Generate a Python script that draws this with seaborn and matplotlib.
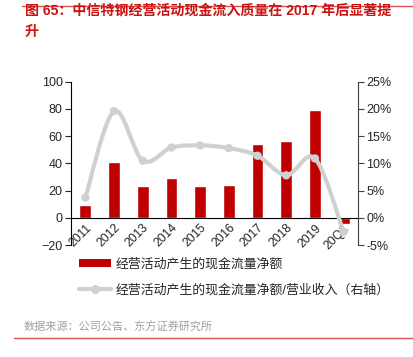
import matplotlib
matplotlib.use('Agg')
import matplotlib.pyplot as plt
import numpy as np
import pandas as pd
import seaborn as sns
from matplotlib.path import Path
from matplotlib.patches import PathPatch, Patch
from matplotlib.lines import Line2D

periods = ['2011', '2012', '2013', '2014', '2015', '2016', '2017', '2018', '2019', '20Q1']
net_cash = [9.5, 41, 23, 29.5, 23, 24, 54, 56.5, 79, -4.5]
cash_ratio = [3.7, 19.6, 10.5, 12.9, 13.3, 12.8, 11.4, 7.8, 10.9, -2.6]

bar_label = '经营活动产生的现金流量净额'
line_label = '经营活动产生的现金流量净额/营业收入（右轴）'
title = '图 65：中信特钢经营活动现金流入质量在 2017 年后显著提\n升'
source = '数据来源：公司公告、东方证券研究所'

RED = '#C00000'
GREY = '#D0D0D0'

sns.set_style('white')
plt.rcParams['font.family'] = ['Liberation Sans', 'Noto Sans CJK SC', 'DejaVu Sans']

df = pd.DataFrame({'period': periods, 'net_cash': net_cash, 'ratio': cash_ratio})
df['pos'] = np.arange(len(df))

fig = plt.figure(figsize=(4.14, 3.57), dpi=100)
ax = fig.add_axes([71/414, 1-245/357, (358-71)/414, (245-81.7)/357])

sns.barplot(data=df, x='period', y='net_cash', color=RED, saturation=1, width=0.41, ax=ax)
ax.set_xlim(-0.5, len(df) - 0.5)
ax.set_ylim(-20, 100)
ax.set_yticks(range(-20, 101, 20))
ax.set_xlabel('')
ax.set_ylabel('')

ax.spines['bottom'].set_position(('data', 0))
ax.spines['top'].set_visible(False)
ax.spines['right'].set_visible(False)
for sp in ['left', 'bottom']:
    ax.spines[sp].set_color('black')
    ax.spines[sp].set_linewidth(0.8)

ax.set_xticks(df['pos'])
ax.set_xticklabels(periods, rotation=45, ha='right', va='top', rotation_mode='anchor')
ax.set_xticks(np.arange(-0.5, len(df)), minor=True)
ax.tick_params(axis='x', which='major', length=0, pad=3, labelsize=8.8)
ax.tick_params(axis='x', which='minor', length=4, width=0.8, direction='out', color='black')
ax.tick_params(axis='y', length=4, width=0.8, direction='out', labelsize=9, pad=2, left=True)

ax2 = ax.twinx()
ax2.set_ylim(-5, 25)
ax2.set_yticks(range(-5, 26, 5))
ax2.set_yticklabels([f'{v}%' for v in range(-5, 26, 5)])
for sp in ['left', 'top', 'bottom']:
    ax2.spines[sp].set_visible(False)
ax2.spines['right'].set_color('#404040')
ax2.spines['right'].set_linewidth(0.8)
ax2.tick_params(axis='y', length=4, width=0.8, direction='out', labelsize=9, pad=2, right=True, color='#404040')

# smoothed line (bezier through the points, like the excel smooth option)
pts = np.column_stack([df['pos'], df['ratio']])
verts = [pts[0]]
codes = [Path.MOVETO]
n = len(pts)
for i in range(n - 1):
    p0 = pts[max(i - 1, 0)]
    p1 = pts[i]
    p2 = pts[i + 1]
    p3 = pts[min(i + 2, n - 1)]
    verts += [p1 + (p2 - p0) / 6, p2 - (p3 - p1) / 6, p2]
    codes += [Path.CURVE4] * 3
ax2.add_patch(PathPatch(Path(verts, codes), fill=False, edgecolor=GREY, lw=3, capstyle='round', zorder=3))
sns.scatterplot(x=df['pos'], y=df['ratio'], color=GREY, s=36, edgecolor='none', ax=ax2, zorder=4)
ax2.set_xlabel('')
ax2.set_ylabel('')

fig.lines.append(Line2D([22/414, 1], [1-6/357, 1-6/357], transform=fig.transFigure, color='#D9534F', lw=1))
fig.lines.append(Line2D([14/414, 1], [1-338/357, 1-338/357], transform=fig.transFigure, color='#D9534F', lw=1))

fig.text(25/414, 1-21.5/357, title, color='#CC1111', fontsize=10.1, fontweight='bold',
         va='center', ha='left', linespacing=1.7)
fig.text(24/414, 1-327/357, source, color='#A0A0A0', fontsize=8, va='center', ha='left')

handles = [Patch(facecolor=RED, edgecolor='none'),
           Line2D([0], [0], color=GREY, lw=3, marker='o', markersize=5.5, markeredgecolor=GREY)]
fig.legend(handles, [bar_label, line_label], loc='upper left',
           bbox_to_anchor=(79/414, 1-258/357), frameon=False, fontsize=9.3,
           handlelength=2.5, handleheight=0.6, handletextpad=0.3, labelspacing=1.05,
           borderpad=0, borderaxespad=0)

fig.savefig('out.png', dpi=100)
